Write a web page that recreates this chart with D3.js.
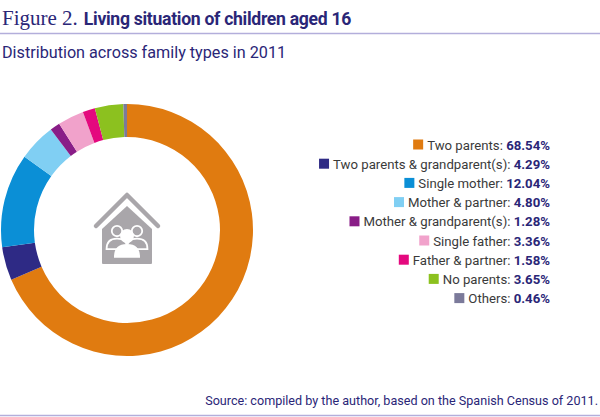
<!DOCTYPE html>
<html>
<head>
<meta charset="utf-8">
<script src="https://cdn.jsdelivr.net/npm/d3@7"></script>
<style>
  html, body { margin: 0; padding: 0; background: #fff; }
  svg { display: block; }
</style>
</head>
<body>
<svg id="chart" width="600" height="417"></svg>
<script>
// data
const categories = [
    'Two parents',
    'Two parents & grandparent(s)',
    'Single mother',
    'Mother & partner',
    'Mother & grandparent(s)',
    'Single father',
    'Father & partner',
    'No parents',
    'Others'
];
const shares = [68.54, 4.29, 12.04, 4.80, 1.28, 3.36, 1.58, 3.65, 0.46];
const colours = ['#e07b10', '#2e2a85', '#0b8fd6', '#80cff3', '#891d87',
                 '#f1a2cb', '#e4097e', '#8cc11f', '#7b7a9a'];

const navy = '#2a2677';
const svg = d3.select('#chart');

// header
let title = svg.append('text')
    .attr('x', 2)
    .attr('y', 25);
title.append('tspan')
    .attr('font-family', 'Liberation Serif, serif')
    .attr('font-size', 21)
    .attr('fill', navy)
    .text('Figure 2.');
title.append('tspan')
    .attr('dx', 6)
    .attr('font-family', 'Roboto, sans-serif')
    .attr('font-weight', 'bold')
    .attr('font-size', 17.6)
    .attr('letter-spacing', -0.3)
    .attr('fill', navy)
    .text('Living situation of children aged 16');

svg.append('line')
    .attr('x1', 0).attr('x2', 600)
    .attr('y1', 33.5).attr('y2', 33.5)
    .attr('stroke', '#b3aedb')
    .attr('stroke-width', 1.5);

svg.append('text')
    .attr('x', 2)
    .attr('y', 58)
    .attr('font-family', 'Roboto, sans-serif')
    .attr('font-size', 16.2)
    .attr('fill', navy)
    .text('Distribution across family types in 2011');

// donut
const cx = 127, cy = 230;
const pie = d3.pie().sort(null).value(d => d);
const arc = d3.arc().innerRadius(93).outerRadius(126);

let donut = svg.append('g')
    .attr('transform', 'translate(' + cx + ',' + cy + ')');

donut.selectAll('path.slice')
    .data(pie(shares))
    .enter()
    .append('path')
    .attr('class', 'slice')
    .attr('d', arc)
    .attr('fill', (d, i) => colours[i]);

// house icon in the middle
const grey = '#a9a6aa';
let icon = donut.append('g');
icon.append('path')
    .attr('d', 'M-31,-4 L0,-35 L31,-4')
    .attr('fill', 'none')
    .attr('stroke', grey)
    .attr('stroke-width', 4.5)
    .attr('stroke-linecap', 'round')
    .attr('stroke-linejoin', 'round');
icon.append('path')
    .attr('d', 'M-25,-1 L0,-24 L25,-1 L25,33 Q25,34 24,34 L-24,34 Q-25,34 -25,33 Z')
    .attr('fill', grey);

// the three people
const person = (g, x, y, s, fill) => {
    g.append('circle')
        .attr('cx', x).attr('cy', y).attr('r', 5.5 * s)
        .attr('fill', fill)
        .attr('stroke', '#fff').attr('stroke-width', 1.8);
    g.append('path')
        .attr('d', 'M' + (x - 11 * s) + ',' + (y + 19 * s) +
                   ' Q' + (x - 11 * s) + ',' + (y + 8 * s) + ' ' + x + ',' + (y + 8 * s) +
                   ' Q' + (x + 11 * s) + ',' + (y + 8 * s) + ' ' + (x + 11 * s) + ',' + (y + 19 * s) + ' Z')
        .attr('fill', fill)
        .attr('stroke', '#fff').attr('stroke-width', 1.8);
};
person(icon, -10, 1, 0.95, grey);
person(icon, 10, 1, 0.95, grey);
person(icon, 0, 6, 1.1, '#fff');

// legend, right aligned
const legendRight = 550;
let legend = svg.append('g')
    .attr('font-family', 'Roboto, sans-serif')
    .attr('font-size', 13.2);

categories.forEach((c, i) => {
    let y = 149.5 + i * 19.2;
    let t = legend.append('text')
        .attr('x', legendRight)
        .attr('y', y)
        .attr('text-anchor', 'end')
        .attr('fill', '#3a3a3a');
    t.append('tspan').text(c + ': ');
    t.append('tspan')
        .attr('font-weight', 'bold')
        .attr('fill', navy)
        .text(shares[i].toFixed(2) + '%');
    let w = t.node().getComputedTextLength();
    legend.append('rect')
        .attr('x', legendRight - w - 14)
        .attr('y', y - 10)
        .attr('width', 10)
        .attr('height', 10)
        .attr('fill', colours[i]);
});

// footer
svg.append('text')
    .attr('x', 598)
    .attr('y', 405)
    .attr('text-anchor', 'end')
    .attr('font-family', 'Roboto, sans-serif')
    .attr('font-size', 12.6)
    .attr('fill', navy)
    .text('Source: compiled by the author, based on the Spanish Census of 2011.');

svg.append('line')
    .attr('x1', 0).attr('x2', 600)
    .attr('y1', 415.5).attr('y2', 415.5)
    .attr('stroke', '#b3aedb')
    .attr('stroke-width', 1.5);
</script>
</body>
</html>
